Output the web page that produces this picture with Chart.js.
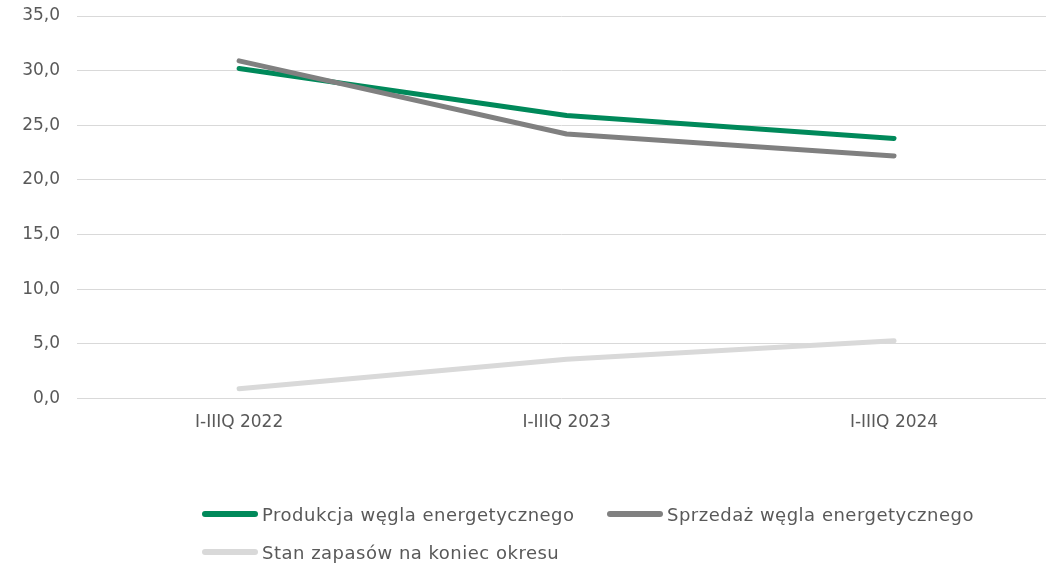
<!DOCTYPE html>
<html>
<head>
<meta charset="utf-8">
<script src="https://cdn.jsdelivr.net/npm/chart.js@4/dist/chart.umd.min.js"></script>
<style>
  html, body { margin: 0; padding: 0; background: #fff; }
  #wrap { position: relative; width: 1046px; height: 564px; }
  #legend {
    position: absolute; left: 202px; top: 502px; width: 820px;
    display: grid; grid-template-columns: 405px 405px; row-gap: 14px;
    font-family: "DejaVu Sans", sans-serif; font-size: 18px; letter-spacing: 0.5px; color: #595959;
  }
  .item { display: flex; align-items: center; height: 24px; white-space: nowrap; }
  .swatch { width: 56px; height: 6px; border-radius: 3px; margin-right: 4px; }
</style>
</head>
<body>
<div id="wrap">
  <canvas id="myChart" width="1046" height="564"></canvas>
  <div id="legend"></div>
</div>
<script>
const categories = ["I-IIIQ 2022", "I-IIIQ 2023", "I-IIIQ 2024"];
const produkcja = [30.2, 25.9, 23.8];
const sprzedaz = [30.9, 24.2, 22.2];
const zapasy = [0.9, 3.6, 5.3];
const seriesNames = ["Produkcja węgla energetycznego", "Sprzedaż węgla energetycznego", "Stan zapasów na koniec okresu"];
const seriesColors = ["#00895A", "#808080", "#D9D9D9"];
const yTicks = [0, 5, 10, 15, 20, 25, 30, 35];

function points(values) {
  return values.map((v, i) => ({ x: i, y: v }));
}

let allSeries = [produkcja, sprzedaz, zapasy];
let datasets = allSeries.map((vals, i) => ({
  label: seriesNames[i],
  data: points(vals),
  borderColor: seriesColors[i],
  backgroundColor: seriesColors[i],
  borderWidth: 5,
  borderCapStyle: 'round',
  borderJoinStyle: 'round',
  pointRadius: 0,
  tension: 0,
  order: 3 - i
}));

let chart = new Chart(document.getElementById("myChart"), {
  type: "line",
  data: { datasets: datasets },
  options: {
    responsive: false,
    animation: false,
    layout: { padding: { top: 16, left: 0, right: 0, bottom: 117 } },
    plugins: { legend: { display: false }, tooltip: { enabled: false } },
    scales: {
      x: {
        type: 'linear',
        min: -0.495,
        max: 2.464,
        border: { display: false },
        grid: { display: false, drawTicks: false },
        ticks: {
          stepSize: 1,
          includeBounds: false,
          padding: 14,
          maxRotation: 0,
          color: "#595959",
          font: { family: "DejaVu Sans", size: 17 },
          callback: v => Number.isInteger(v) ? categories[v] : ''
        }
      },
      y: {
        min: yTicks[0],
        max: yTicks[yTicks.length - 1],
        border: { display: false },
        grid: { color: "#d9d9d9", lineWidth: 1, drawTicks: false },
        afterFit: s => { s.width = 77; s.paddingTop = 0; s.paddingBottom = 0; },
        ticks: {
          stepSize: 5,
          padding: 17,
          color: "#595959",
          font: { family: "DejaVu Sans", size: 17 },
          callback: v => v.toFixed(1).replace('.', ',')
        }
      }
    }
  }
});

// legend in html, left aligned rows like the original
let legend = document.getElementById('legend');
seriesNames.forEach((name, i) => {
  let item = document.createElement('div');
  item.className = 'item';
  item.innerHTML = '<span class="swatch" style="background:' + seriesColors[i] + '"></span>' + name;
  legend.appendChild(item);
});
</script>
</body>
</html>
